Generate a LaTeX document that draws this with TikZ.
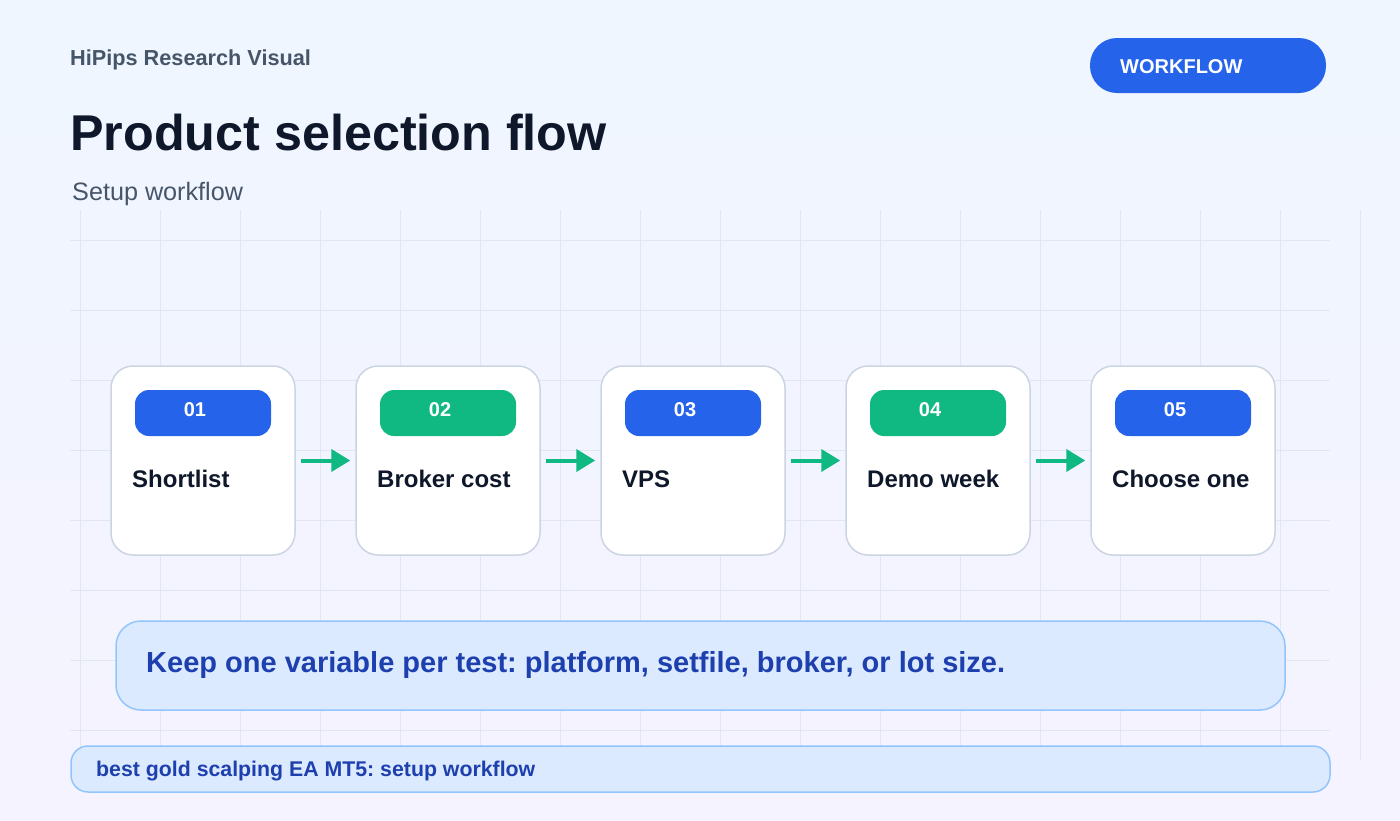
\documentclass[tikz,border=0pt]{standalone}
\usepackage{fontspec}
\setmainfont{Liberation Sans}
\usetikzlibrary{arrows.meta}
\definecolor{bgtop}{RGB}{239,246,255}
\definecolor{bgbot}{RGB}{245,243,255}
\definecolor{ink}{RGB}{15,23,42}
\definecolor{slate}{RGB}{71,85,105}
\definecolor{pillblue}{RGB}{37,99,235}
\definecolor{pillgreen}{RGB}{16,185,129}
\definecolor{cardborder}{RGB}{203,213,225}
\definecolor{callfill}{RGB}{219,234,254}
\definecolor{callborder}{RGB}{147,197,253}
\definecolor{calltext}{RGB}{30,64,175}
\definecolor{gridcol}{RGB}{225,231,242}
\newcommand{\myfs}[1]{\fontsize{#1}{#1}\selectfont}
\frenchspacing
\begin{document}
\begin{tikzpicture}[x=1pt,y=-1pt,
  gridline/.style={draw=gridcol,line width=1pt},
  txt/.style={anchor=base west,inner sep=0pt},
  card/.style={draw=cardborder,fill=white,line width=1.5pt,rounded corners=22pt,
    minimum width=184pt,minimum height=189pt,inner sep=0pt},
  pill/.style={rounded corners=14pt,minimum width=136pt,minimum height=46pt,
    inner sep=0pt,text=white,font=\bfseries\myfs{20},text depth=6pt},
  steplabel/.style={txt,text=ink,font=\bfseries\myfs{24}},
  flowarrow/.style={draw=pillgreen,line width=4pt,
    -{Triangle[length=19pt,width=22pt]},shorten <=5pt,shorten >=5pt},
  panel/.style={draw=callborder,fill=callfill,line width=1.5pt,inner sep=0pt}
]
\useasboundingbox (0,0) rectangle (1400,820);
\shade[top color=bgtop,bottom color=bgbot] (0,0) rectangle (1400,820);
% grid
\foreach \x in {80,160,...,1360} \draw[gridline] (\x,210) -- (\x,760);
\foreach \y in {240,310,...,730} \draw[gridline] (70,\y) -- (1330,\y);
% header
\node[txt,text=slate,font=\bfseries\myfs{21.7}] (brand) at (70,65.5) {HiPips Research Visual};
\node[txt,text=ink,font=\bfseries\myfs{50.3}] (title) at (70,150) {Product selection flow};
\node[txt,text=slate,font=\myfs{25.2}] (subtitle) at (72,200) {Setup workflow};
% badge
\node[fill=pillblue,rounded corners=27pt,minimum width=236pt,minimum height=55pt,inner sep=0pt]
  (badge) at (1208,65.5) {};
\node[txt,text=white,font=\bfseries\myfs{20}] (badgetext) at (1120,73) {WORKFLOW};
% cards
\foreach \i/\lab/\col in {1/Shortlist/pillblue,2/Broker cost/pillgreen,3/VPS/pillblue,4/Demo week/pillgreen,5/Choose one/pillblue}{
  \node[card] (card\i) at ({203+245*(\i-1)},460.5) {};
  \node[pill,fill=\col] (pill\i) at ({203+245*(\i-1)},413) {\hspace*{-16pt}0\i};
  \node[steplabel] (lab\i) at ({132+245*(\i-1)},487) {\lab};
}
\foreach \i/\j in {1/2,2/3,3/4,4/5}
  \draw[flowarrow] (card\i.east) -- (card\j.west);
% callout
\node[panel,rounded corners=25pt,minimum width=1169pt,minimum height=89pt] (note) at (700.5,665.5) {};
\node[txt,text=calltext,font=\bfseries\myfs{29}] (notetext) at (146,672)
  {Keep one variable per test: platform, setfile, broker, or lot size.};
% footer
\node[panel,rounded corners=17pt,minimum width=1259pt,minimum height=46pt] (footer) at (700.5,769) {};
\node[txt,text=calltext,font=\bfseries\myfs{21.3}] (footertext) at (96,776.5)
  {best gold scalping EA MT5: setup workflow};
\end{tikzpicture}
\end{document}
